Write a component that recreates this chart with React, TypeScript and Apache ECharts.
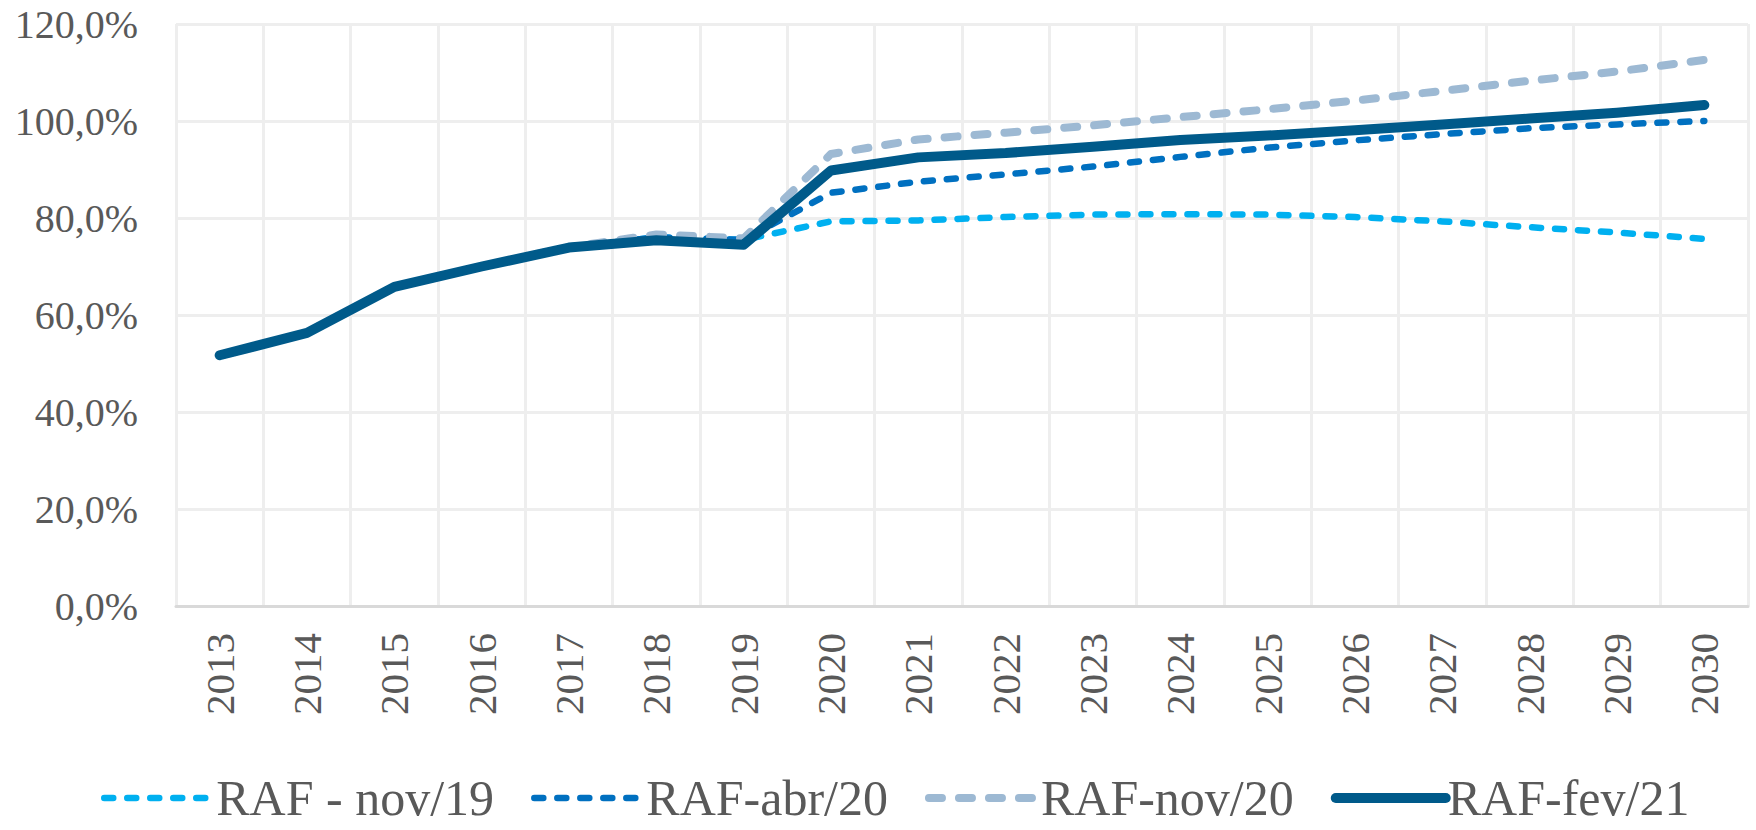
import React, { useEffect, useRef } from "react";
import * as echarts from "echarts";

const categories = ["2013","2014","2015","2016","2017","2018","2019","2020","2021","2022","2023","2024","2025","2026","2027","2028","2029","2030"];
const rafNov19 = [51.7, 56.3, 65.8, 70.0, 73.9, 76.0, 75.5, 79.3, 79.5, 80.2, 80.7, 80.8, 80.7, 80.2, 79.3, 78.1, 77.0, 75.7];
const rafAbr20 = [51.7, 56.3, 65.8, 70.0, 73.9, 76.0, 75.5, 85.2, 87.5, 89.0, 90.6, 92.6, 94.5, 96.0, 97.3, 98.5, 99.3, 100.0];
const rafNov20 = [51.7, 56.3, 65.8, 70.0, 74.0, 76.6, 75.8, 93.2, 96.2, 97.6, 99.1, 100.8, 102.4, 104.2, 106.2, 108.3, 110.2, 112.6];
const rafFev21 = [51.7, 56.3, 65.8, 70.0, 73.9, 75.4, 74.5, 89.8, 92.5, 93.4, 94.7, 96.1, 97.0, 98.1, 99.3, 100.5, 101.7, 103.3];
const seriesNames = ["RAF - nov/19", "RAF-abr/20", "RAF-nov/20", "RAF-fev/21"];
const seriesColors = ["#00B0F0", "#0070C0", "#9DB9D3", "#005A8A"];
const yTicks = { min: 0, max: 120, interval: 20 };

const FONT = "'Liberation Serif', serif";
const TEXT = "#595959";

export default function App() {
  const ref = useRef<HTMLDivElement>(null);
  useEffect(() => {
    document.body.style.margin = "0";
    if (!ref.current) return;
    const chart = echarts.init(ref.current, undefined, { renderer: "svg" });
    const styles: any[] = [
      { width: 6.5, type: [9, 14] },
      { width: 6.5, type: [9, 14] },
      { width: 8, type: [13, 17] },
      { width: 10, type: "solid" },
    ];
    const datas = [rafNov19, rafAbr20, rafNov20, rafFev21];
    const series = seriesNames.map((name, i) => ({
      name,
      type: "line",
      data: datas[i],
      symbol: "none",
      z: 2 + i,
      lineStyle: { color: seriesColors[i], width: styles[i].width, type: styles[i].type, cap: "round", join: "round" },
      itemStyle: { color: seriesColors[i] },
    }));
    chart.setOption({
      animation: false,
      backgroundColor: "#ffffff",
      grid: { left: 176, right: 8, top: 24, bottom: 224, containLabel: false },
      legend: {
        bottom: 2,
        left: 96,
        itemWidth: 110,
        itemHeight: 14,
        itemGap: 37,
        itemStyle: { opacity: 0, borderWidth: 0 },
        textStyle: { fontFamily: FONT, fontSize: 50, color: TEXT, padding: [0, 0, 0, -3] },
        data: seriesNames.map((name, i) => ({
          name,
          lineStyle: { color: seriesColors[i], width: styles[i].width, type: styles[i].type, cap: "round" },
        })),
      },
      xAxis: {
        type: "category",
        data: categories,
        boundaryGap: true,
        axisLine: { show: true, lineStyle: { color: "#D9D9D9", width: 3 } },
        axisTick: { show: false },
        splitLine: { show: true, lineStyle: { color: "#EEEEEE", width: 3 } },
        axisLabel: { rotate: 90, margin: 27, fontFamily: FONT, fontSize: 41, color: TEXT, interval: 0 },
      },
      yAxis: {
        type: "value",
        min: yTicks.min,
        max: yTicks.max,
        interval: yTicks.interval,
        axisLine: { show: false },
        axisTick: { show: false },
        splitLine: { show: true, lineStyle: { color: "#EEEEEE", width: 3 } },
        axisLabel: {
          margin: 38,
          fontFamily: FONT,
          fontSize: 40,
          color: TEXT,
          formatter: (v: number) => v.toFixed(1).replace(".", ",") + "%",
        },
      },
      series,
    });
    return () => chart.dispose();
  }, []);
  return <div ref={ref} style={{ width: 1756, height: 830 }} />;
}
